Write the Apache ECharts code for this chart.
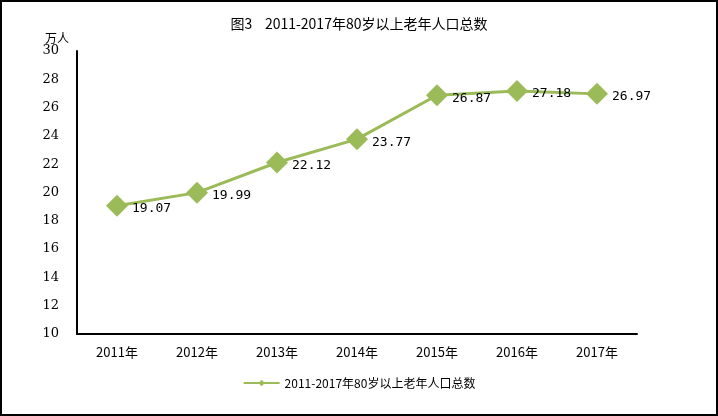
<!DOCTYPE html>
<html><head><meta charset="utf-8">
<script src="https://cdn.jsdelivr.net/npm/echarts@6/dist/echarts.min.js"></script>
<style>html,body{margin:0;padding:0;background:#fff}#c{width:718px;height:416px}</style>
</head><body><div id="c"></div>
<script>
const categories = ['2011年','2012年','2013年','2014年','2015年','2016年','2017年'];
const values = [19.07, 19.99, 22.12, 23.77, 26.87, 27.18, 26.97];
const seriesName = '2011-2017年80岁以上老年人口总数';
const titleText = '图3    2011-2017年80岁以上老年人口总数';
const yTicks = {min: 10, max: 30, interval: 2};
const font = '"Noto Sans CJK SC", "DejaVu Serif", serif';
const chart = echarts.init(document.getElementById('c'));
chart.setOption({
  animation: false,
  title: {text: titleText, left: 'center', top: 12, textStyle: {fontSize: 14, fontWeight: 'normal', color: '#000', fontFamily: font}},
  graphic: [{type: 'rect', shape: {x: 1, y: 1, width: 716, height: 414}, style: {fill: 'none', stroke: '#000', lineWidth: 2}}],
  legend: {bottom: 22, left: 'center', itemWidth: 36, itemHeight: 8, itemGap: 4,
    textStyle: {fontSize: 12, color: '#000', fontFamily: font}, data: [seriesName]},
  grid: {left: 77, right: 81, top: 51, bottom: 82},
  xAxis: {type: 'category', data: categories, boundaryGap: true,
    axisLine: {lineStyle: {color: '#000', width: 2}}, axisTick: {show: false},
    axisLabel: {color: '#000', fontSize: 13, margin: 12, fontFamily: font}},
  yAxis: {type: 'value', min: yTicks.min, max: yTicks.max, interval: yTicks.interval,
    name: '万人', nameGap: 6, nameTextStyle: {color: '#000', fontSize: 12, align: 'right', padding: [0, 8, 0, 0], fontFamily: font},
    axisLine: {show: true, lineStyle: {color: '#000', width: 2}}, axisTick: {show: false}, splitLine: {show: false},
    axisLabel: {color: '#000', fontSize: 13, margin: 18, fontFamily: '"DejaVu Serif", serif'}},
  series: [{name: seriesName, type: 'line', data: values, symbol: 'diamond', symbolSize: 22,
    itemStyle: {color: '#9BBB59'}, lineStyle: {color: '#9BBB59', width: 3},
    label: {show: true, position: 'right', distance: 4, offset: [0, 3], color: '#000', fontSize: 13,
      fontFamily: '"DejaVu Sans Mono", monospace', formatter: p => p.value.toFixed(2)}}]
});
</script></body></html>
